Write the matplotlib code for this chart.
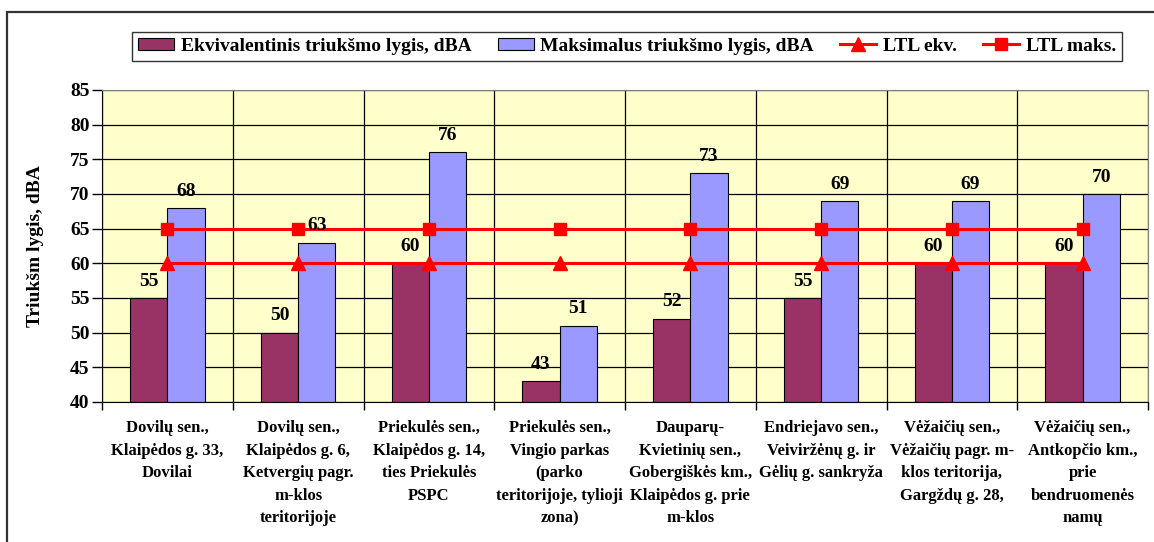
import numpy as np
import matplotlib
matplotlib.use('Agg')
import matplotlib.pyplot as plt
from matplotlib.patches import Rectangle, Patch
from matplotlib.lines import Line2D

plt.rcParams['font.family'] = ['Liberation Serif', 'DejaVu Serif']
plt.rcParams['font.weight'] = 'bold'

# duomenys
vietos = [
    "Dovilų sen.,\nKlaipėdos g. 33,\nDovilai",
    "Dovilų sen.,\nKlaipėdos g. 6,\nKetvergių pagr.\nm-klos\nteritorijoje",
    "Priekulės sen.,\nKlaipėdos g. 14,\nties Priekulės\nPSPC",
    "Priekulės sen.,\nVingio parkas\n(parko\nteritorijoje, tylioji\nzona)",
    "Dauparų-\nKvietinių sen.,\nGobergiškės km.,\nKlaipėdos g. prie\nm-klos",
    "Endriejavo sen.,\nVeiviržėnų g. ir\nGėlių g. sankryža",
    "Vėžaičių sen.,\nVėžaičių pagr. m-\nklos teritorija,\nGargždų g. 28,",
    "Vėžaičių sen.,\nAntkopčio km.,\nprie\nbendruomenės\nnamų",
]
ekv = [55, 50, 60, 43, 52, 55, 60, 60]
maks = [68, 63, 76, 51, 73, 69, 69, 70]
ltl_ekv = [60, 60, 60, 60, 60, 60, 60, 60]
ltl_maks = [65, 65, 65, 65, 65, 65, 65, 65]

W, H = 1154, 542
fig = plt.figure(figsize=(W / 100, H / 100), dpi=100)
ax = fig.add_axes([102 / W, 1 - 402 / H, 1046 / W, 312 / H])
ax.set_facecolor('#FFFFCC')

x = np.arange(len(vietos))
bw = 0.285
ax.bar(x - bw / 2, [v - 40 for v in ekv], bw, bottom=40, color='#993366',
       edgecolor='black', linewidth=0.8, zorder=2)
ax.bar(x + bw / 2, [v - 40 for v in maks], bw, bottom=40, color='#9999FF',
       edgecolor='black', linewidth=0.8, zorder=2)

for i in range(len(x)):
    ax.annotate(str(ekv[i]), (x[i] - bw / 2, ekv[i]), xytext=(0, 6),
                textcoords='offset points', ha='center', va='bottom',
                fontsize=14, zorder=5)
    ax.annotate(str(maks[i]), (x[i] + bw / 2, maks[i]), xytext=(0, 6),
                textcoords='offset points', ha='center', va='bottom',
                fontsize=14, zorder=5)

ax.plot(x, ltl_ekv, color='red', lw=2.2, marker='^', markersize=10, zorder=4)
ax.plot(x, ltl_maks, color='red', lw=2.2, marker='s', markersize=8.5, zorder=4)

ax.set_xlim(-0.5, len(x) - 0.5)
ax.set_ylim(40, 85)
ax.set_yticks(range(40, 86, 5))
ax.tick_params(axis='y', labelsize=14, length=7, width=1, pad=2)

ax.set_xticks(np.arange(-0.5, len(x), 1))
ax.set_xticklabels([])
ax.set_xticks(x, minor=True)
ax.set_xticklabels(vietos, minor=True, fontsize=12, linespacing=1.55)
ax.tick_params(axis='x', which='major', length=6, width=1)
ax.tick_params(axis='x', which='minor', length=0, pad=13)

ax.grid(True, which='major', color='black', lw=0.9, zorder=1)
ax.set_axisbelow(True)
for s in ['top', 'right']:
    ax.spines[s].set_color('#808080')
ax.spines['left'].set_color('black')
ax.spines['bottom'].set_color('black')

ax.set_ylabel('Triukšm lygis, dBA', fontsize=14, fontweight='bold', labelpad=19)

handles = [
    Patch(facecolor='#993366', edgecolor='black', linewidth=0.8),
    Patch(facecolor='#9999FF', edgecolor='black', linewidth=0.8),
    Line2D([], [], color='red', lw=2.2, marker='^', markersize=10),
    Line2D([], [], color='red', lw=2.2, marker='s', markersize=8.5),
]
labels = ['Ekvivalentinis triukšmo lygis, dBA', 'Maksimalus triukšmo lygis, dBA',
          'LTL ekv.', 'LTL maks.']
leg = fig.legend(handles, labels, ncol=4, loc='upper left',
                 bbox_to_anchor=(132 / W, 1 - 32 / H), fontsize=14,
                 frameon=True, fancybox=False, shadow=False,
                 handlelength=1.85, handleheight=0.57, handletextpad=0.35,
                 columnspacing=1.35, borderpad=0.3, borderaxespad=0)
leg.get_frame().set_edgecolor('black')
leg.get_frame().set_linewidth(1)

# ramelis aplink visa diagrama
fig.patches.append(Rectangle((7 / W, -0.1), 1.2, 1.1 - 12 / H, fill=False,
                             edgecolor='#333333', lw=1.6,
                             transform=fig.transFigure))

fig.savefig('out.png', dpi=100)
